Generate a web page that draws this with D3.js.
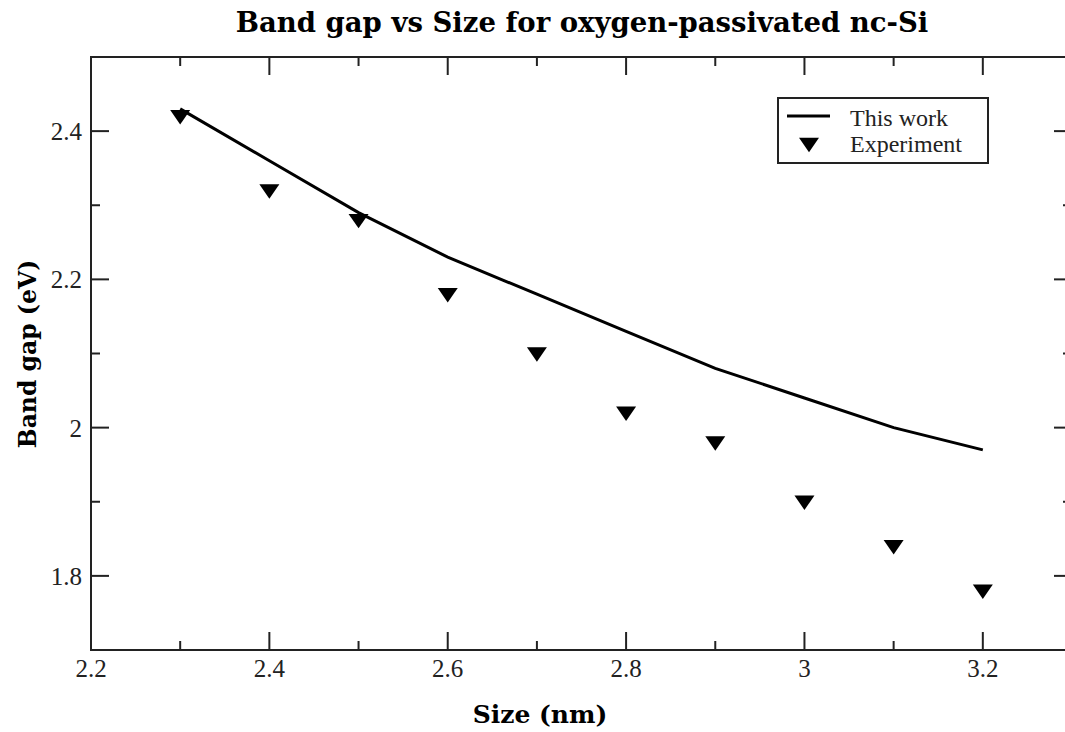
<!DOCTYPE html>
<html>
<head>
<meta charset="utf-8">
<script src="https://cdn.jsdelivr.net/npm/d3@7"></script>
<style>
  body { margin: 0; background: #fff; }
  svg { display: block; }
</style>
</head>
<body>
<svg id="chart"></svg>
<script>
const sizes = [2.3, 2.4, 2.5, 2.6, 2.7, 2.8, 2.9, 3.0, 3.1, 3.2];
const thisWork = [2.43, 2.36, 2.29, 2.23, 2.18, 2.13, 2.08, 2.04, 2.00, 1.97];
const experiment = [2.42, 2.32, 2.28, 2.18, 2.10, 2.02, 1.98, 1.90, 1.84, 1.78];
const xTicks = [2.2, 2.4, 2.6, 2.8, 3.0, 3.2];
const yTicks = [1.8, 2.0, 2.2, 2.4];

const W = 1065, H = 732;
const margin = { top: 57, right: -7, bottom: 82, left: 91 };

const svg = d3.select("#chart").attr("width", W).attr("height", H);

const x = d3.scaleLinear().domain([2.2, 3.3]).range([margin.left, W - margin.right]);
const y = d3.scaleLinear().domain([1.7, 2.5]).range([H - margin.bottom, margin.top]);

const serif = "'Liberation Serif', 'Times New Roman', serif";
const boldSerif = "'DejaVu Serif', serif";
const major = 18, minor = 9;
const fmt = d => d3.format("~g")(d);

const xMinor = d3.range(2.3, 3.3, 0.2).map(v => +v.toFixed(1));
const yMinor = [1.9, 2.1, 2.3];

// frame
svg.append("rect")
  .attr("x", x(2.2)).attr("y", y(2.5))
  .attr("width", x(3.3) - x(2.2)).attr("height", y(1.7) - y(2.5))
  .attr("fill", "none").attr("stroke", "#222").attr("stroke-width", 2);

// ticks, all inward
const tickG = svg.append("g").attr("stroke", "#222").attr("stroke-width", 2);
function addX(vals, len) {
  vals.forEach(v => {
    tickG.append("line").attr("x1", x(v)).attr("x2", x(v))
      .attr("y1", y(1.7)).attr("y2", y(1.7) - len);
    tickG.append("line").attr("x1", x(v)).attr("x2", x(v))
      .attr("y1", y(2.5)).attr("y2", y(2.5) + len);
  });
}
function addY(vals, len) {
  vals.forEach(v => {
    tickG.append("line").attr("y1", y(v)).attr("y2", y(v))
      .attr("x1", x(2.2)).attr("x2", x(2.2) + len);
    tickG.append("line").attr("y1", y(v)).attr("y2", y(v))
      .attr("x1", x(3.3)).attr("x2", x(3.3) - len);
  });
}
addX(xTicks.slice(1), major);
addX(xMinor, minor);
addY(yTicks, major);
addY(yMinor, minor);

// tick labels
svg.append("g").selectAll("text").data(xTicks).join("text")
  .attr("x", d => x(d)).attr("y", y(1.7) + 27)
  .attr("text-anchor", "middle")
  .attr("font-family", serif).attr("font-size", 25).attr("fill", "#222")
  .text(fmt);

svg.append("g").selectAll("text").data(yTicks).join("text")
  .attr("x", x(2.2) - 9).attr("y", d => y(d) + 9)
  .attr("text-anchor", "end")
  .attr("font-family", serif).attr("font-size", 25).attr("fill", "#222")
  .text(fmt);

// titles
svg.append("text")
  .attr("x", 582).attr("y", 32)
  .attr("text-anchor", "middle")
  .attr("font-family", boldSerif).attr("font-weight", "bold")
  .attr("font-size", 27.5)
  .text("Band gap vs Size for oxygen-passivated nc-Si");

svg.append("text")
  .attr("x", 540).attr("y", 723)
  .attr("text-anchor", "middle")
  .attr("font-family", boldSerif).attr("font-weight", "bold")
  .attr("font-size", 25)
  .text("Size (nm)");

svg.append("text")
  .attr("transform", "translate(36,354) rotate(-90)")
  .attr("text-anchor", "middle")
  .attr("font-family", boldSerif).attr("font-weight", "bold")
  .attr("font-size", 23.5)
  .text("Band gap (eV)");

// line
const line = d3.line().x((d, i) => x(sizes[i])).y(d => y(d));
svg.append("path").datum(thisWork)
  .attr("d", line).attr("fill", "none")
  .attr("stroke", "#000").attr("stroke-width", 3);

// downward triangles, a bit flatter than equilateral
const downTri = {
  draw(ctx, size) {
    const w = Math.sqrt(size), h = w * 0.72;
    ctx.moveTo(-w / 2, -h / 2);
    ctx.lineTo(w / 2, -h / 2);
    ctx.lineTo(0, h / 2);
    ctx.closePath();
  }
};
const tri = d3.symbol().type(downTri).size(400);
svg.append("g").selectAll("path").data(experiment).join("path")
  .attr("d", tri)
  .attr("transform", (d, i) => `translate(${x(sizes[i])},${y(d) + 1})`)
  .attr("fill", "#000");

// legend
const lg = svg.append("g");
lg.append("rect").attr("x", 778).attr("y", 98).attr("width", 210).attr("height", 65)
  .attr("fill", "#fff").attr("stroke", "#222").attr("stroke-width", 2);
lg.append("line").attr("x1", 787).attr("x2", 830).attr("y1", 116).attr("y2", 116)
  .attr("stroke", "#000").attr("stroke-width", 3);
lg.append("path").attr("d", tri)
  .attr("transform", "translate(809,145)").attr("fill", "#000");
lg.append("text").attr("x", 850).attr("y", 126)
  .attr("font-family", serif).attr("font-size", 24).attr("fill", "#222")
  .text("This work");
lg.append("text").attr("x", 850).attr("y", 152)
  .attr("font-family", serif).attr("font-size", 24).attr("fill", "#222")
  .text("Experiment");
</script>
</body>
</html>
